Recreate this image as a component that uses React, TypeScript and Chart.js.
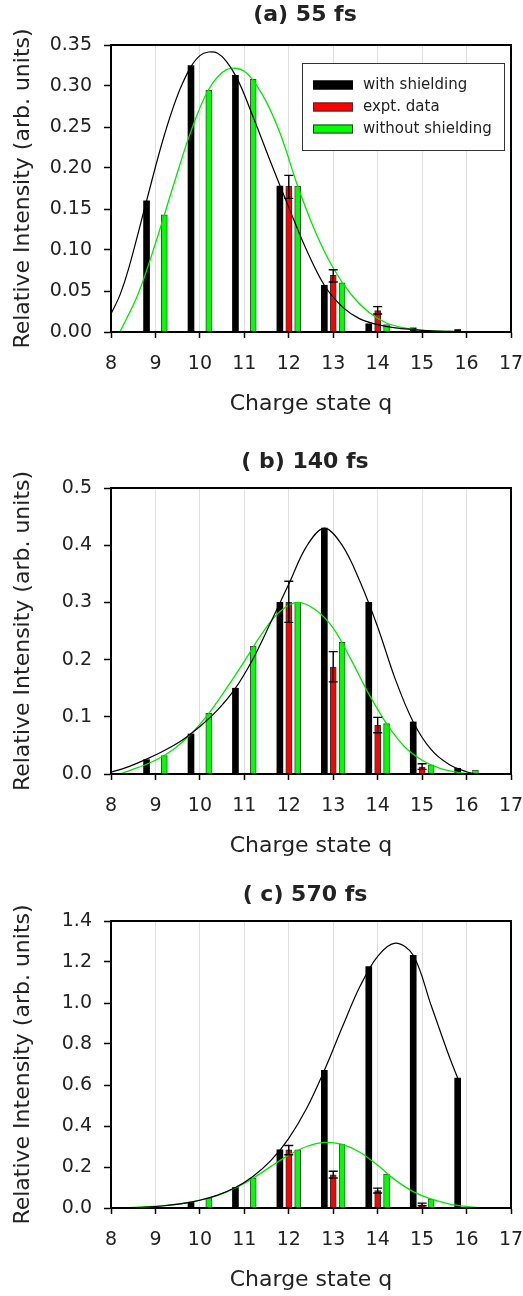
import React, { useEffect, useRef } from "react";
import { Chart, registerables } from "chart.js";

Chart.register(...registerables);

// ---------- shared data ----------
const CHARGE_STATES = [9, 10, 11, 12, 13, 14, 15, 16];
const X_TICKS = [8, 9, 10, 11, 12, 13, 14, 15, 16, 17];
const SERIES_NAMES = ["with shielding", "expt. data", "without shielding"];
const Y_TITLE = "Relative Intensity (arb. units)";
const X_TITLE = "Charge state q";

// ---------- panel (a) 55 fs ----------
const A_TITLE = "(a) 55 fs";
const A_Y_TICKS = [0, 0.05, 0.1, 0.15, 0.2, 0.25, 0.3, 0.35];
const A_Y_LABELS = ["0.00", "0.05", "0.10", "0.15", "0.20", "0.25", "0.30", "0.35"];
const A_WITH = [0.16, 0.325, 0.313, 0.178, 0.057, 0.01, 0.005, 0.003];
const A_WITHOUT = [0.143, 0.295, 0.308, 0.178, 0.06, 0.009, 0.001, null];
const A_EXPT = [null, null, null, 0.178, 0.069, 0.026, null, null];
const A_EXPT_LOW = [null, null, null, 0.163, 0.061, 0.022, null, null];
const A_EXPT_HIGH = [null, null, null, 0.191, 0.076, 0.031, null, null];
const A_FIT_WITH_Q = [8.0, 8.2, 8.4, 8.8, 9.2, 9.6, 10.0, 10.4, 10.8, 11.2, 11.6, 12.0, 12.4, 12.8, 13.2, 13.6, 14.0, 14.4, 14.8, 15.2, 15.6, 16.0];
const A_FIT_WITH_V = [0.022, 0.045, 0.078, 0.16, 0.24, 0.302, 0.337, 0.34, 0.313, 0.262, 0.206, 0.152, 0.1, 0.057, 0.031, 0.016, 0.009, 0.005, 0.003, 0.0015, 0.0007, 0.0];
const A_FIT_WITHOUT_Q = [8.2, 8.6, 9.0, 9.4, 9.8, 10.2, 10.6, 11.0, 11.4, 11.8, 12.2, 12.6, 13.0, 13.4, 13.8, 14.2, 14.6, 15.0, 15.4, 15.8, 16.2];
const A_FIT_WITHOUT_V = [0.0, 0.045, 0.108, 0.178, 0.245, 0.296, 0.32, 0.318, 0.29, 0.243, 0.178, 0.122, 0.078, 0.046, 0.024, 0.011, 0.005, 0.002, 0.001, 0.0005, 0.0];

// ---------- panel (b) 140 fs ----------
const B_TITLE = "( b) 140 fs";
const B_Y_TICKS = [0, 0.1, 0.2, 0.3, 0.4, 0.5];
const B_Y_LABELS = ["0.0", "0.1", "0.2", "0.3", "0.4", "0.5"];
const B_WITH = [0.025, 0.07, 0.15, 0.3, 0.43, 0.3, 0.091, 0.01];
const B_WITHOUT = [0.032, 0.106, 0.223, 0.3, 0.23, 0.088, 0.016, 0.007];
const B_EXPT = [null, null, null, 0.3, 0.187, 0.085, 0.012, null];
const B_EXPT_LOW = [null, null, null, 0.265, 0.161, 0.072, 0.008, null];
const B_EXPT_HIGH = [null, null, null, 0.337, 0.214, 0.099, 0.018, null];
const B_FIT_WITH_Q = [8.0, 8.4, 8.8, 9.2, 9.6, 10.0, 10.4, 10.8, 11.2, 11.6, 12.0, 12.4, 12.8, 13.2, 13.6, 14.0, 14.4, 14.8, 15.2, 15.6, 16.0, 16.2];
const B_FIT_WITH_V = [0.003, 0.013, 0.026, 0.041, 0.059, 0.083, 0.112, 0.15, 0.202, 0.266, 0.332, 0.398, 0.43, 0.4, 0.337, 0.257, 0.165, 0.091, 0.043, 0.017, 0.004, 0.0];
const B_FIT_WITHOUT_Q = [8.2, 8.6, 9.0, 9.4, 9.8, 10.2, 10.6, 11.0, 11.4, 11.8, 12.2, 12.6, 13.0, 13.4, 13.8, 14.2, 14.6, 15.0, 15.4, 15.8, 16.2];
const B_FIT_WITHOUT_V = [0.0, 0.011, 0.024, 0.043, 0.07, 0.106, 0.15, 0.197, 0.246, 0.284, 0.3, 0.287, 0.255, 0.2, 0.14, 0.088, 0.048, 0.024, 0.01, 0.003, 0.0];

// ---------- panel (c) 570 fs ----------
const C_TITLE = "( c) 570 fs";
const C_Y_TICKS = [0, 0.2, 0.4, 0.6, 0.8, 1.0, 1.2, 1.4];
const C_Y_LABELS = ["0.0", "0.2", "0.4", "0.6", "0.8", "1.0", "1.2", "1.4"];
const C_WITH = [null, 0.028, 0.1, 0.284, 0.671, 1.178, 1.233, 0.634];
const C_WITHOUT = [null, 0.049, 0.146, 0.284, 0.312, 0.166, 0.044, null];
const C_EXPT = [null, null, null, 0.284, 0.162, 0.085, 0.016, null];
const C_EXPT_LOW = [null, null, null, 0.26, 0.146, 0.073, 0.011, null];
const C_EXPT_HIGH = [null, null, null, 0.305, 0.179, 0.097, 0.024, null];
const C_FIT_WITH_Q = [8.0, 8.4, 8.8, 9.2, 9.6, 10.0, 10.4, 10.8, 11.2, 11.6, 12.0, 12.4, 12.8, 13.2, 13.6, 14.0, 14.4, 14.8, 15.2, 15.6, 15.8];
const C_FIT_WITH_V = [0.0, 0.002, 0.005, 0.011, 0.021, 0.038, 0.063, 0.1, 0.155, 0.232, 0.34, 0.485, 0.671, 0.88, 1.08, 1.228, 1.292, 1.233, 0.99, 0.745, 0.634];
const C_FIT_WITHOUT_Q = [8.0, 8.4, 8.8, 9.2, 9.6, 10.0, 10.4, 10.8, 11.2, 11.6, 12.0, 12.4, 12.8, 13.2, 13.6, 14.0, 14.4, 14.8, 15.2, 15.6, 16.0, 16.3];
const C_FIT_WITHOUT_V = [0.0, 0.002, 0.006, 0.012, 0.022, 0.038, 0.062, 0.098, 0.146, 0.203, 0.258, 0.3, 0.32, 0.31, 0.272, 0.208, 0.136, 0.08, 0.044, 0.02, 0.007, 0.002];

// ---------- styling / layout constants ----------
const FONT = "DejaVu Sans";
const TEXT_COLOR = "#222";
const GREEN = "#00ff00";
const GREEN_LINE = "#00e600";
const RED = "#ff0000";
const OFFSET_WITH = -0.2;
const OFFSET_EXPT = 0;
const OFFSET_WITHOUT = 0.2;

type PanelCfg = {
  top: number;
  height: number;
  chartTop: number;
  xAxisHeight: number;
  xTitlePad: number;
  titleY: number;
  title: string;
  yMax: number;
  yTicks: number[];
  yLabels: string[];
  withV: (number | null)[];
  withoutV: (number | null)[];
  expt: (number | null)[];
  exptLow: (number | null)[];
  exptHigh: (number | null)[];
  fitWithQ: number[];
  fitWithV: number[];
  fitWithoutQ: number[];
  fitWithoutV: number[];
  legend: boolean;
};

const PANELS: PanelCfg[] = [
  {
    top: 0, height: 430, chartTop: 45, xAxisHeight: 98, xTitlePad: 13, titleY: 15,
    title: A_TITLE, yMax: 0.35, yTicks: A_Y_TICKS, yLabels: A_Y_LABELS,
    withV: A_WITH, withoutV: A_WITHOUT, expt: A_EXPT, exptLow: A_EXPT_LOW, exptHigh: A_EXPT_HIGH,
    fitWithQ: A_FIT_WITH_Q, fitWithV: A_FIT_WITH_V, fitWithoutQ: A_FIT_WITHOUT_Q, fitWithoutV: A_FIT_WITHOUT_V,
    legend: true,
  },
  {
    top: 430, height: 436, chartTop: 58, xAxisHeight: 92, xTitlePad: 7, titleY: 32,
    title: B_TITLE, yMax: 0.5, yTicks: B_Y_TICKS, yLabels: B_Y_LABELS,
    withV: B_WITH, withoutV: B_WITHOUT, expt: B_EXPT, exptLow: B_EXPT_LOW, exptHigh: B_EXPT_HIGH,
    fitWithQ: B_FIT_WITH_Q, fitWithV: B_FIT_WITH_V, fitWithoutQ: B_FIT_WITHOUT_Q, fitWithoutV: B_FIT_WITHOUT_V,
    legend: false,
  },
  {
    top: 866, height: 430, chartTop: 55, xAxisHeight: 88, xTitlePad: 3, titleY: 29,
    title: C_TITLE, yMax: 1.4, yTicks: C_Y_TICKS, yLabels: C_Y_LABELS,
    withV: C_WITH, withoutV: C_WITHOUT, expt: C_EXPT, exptLow: C_EXPT_LOW, exptHigh: C_EXPT_HIGH,
    fitWithQ: C_FIT_WITH_Q, fitWithV: C_FIT_WITH_V, fitWithoutQ: C_FIT_WITHOUT_Q, fitWithoutV: C_FIT_WITHOUT_V,
    legend: false,
  },
];

function barPoints(vals: (number | null)[], offset: number) {
  const out: { x: number; y: number }[] = [];
  CHARGE_STATES.forEach((q, i) => {
    const v = vals[i];
    if (v !== null && v !== undefined) out.push({ x: q + offset, y: v });
  });
  return out;
}

function linePoints(qs: number[], vs: number[]) {
  return qs.map((q, i) => ({ x: q, y: vs[i] }));
}

// ---------- plugins ----------
const titlePlugin = {
  id: "panelTitle",
  afterDraw(chart: any, _args: any, opts: any) {
    const { ctx } = chart;
    ctx.save();
    ctx.font = `bold 22px "${FONT}"`;
    ctx.fillStyle = TEXT_COLOR;
    ctx.textAlign = "center";
    ctx.textBaseline = "middle";
    ctx.fillText(opts.text, opts.x, opts.y);
    ctx.restore();
  },
};

const framePlugin = {
  id: "frame",
  afterDatasetsDraw(chart: any) {
    const { ctx, chartArea: a } = chart;
    ctx.save();
    ctx.strokeStyle = "#000";
    ctx.lineWidth = 2;
    ctx.strokeRect(a.left, a.top, a.right - a.left, a.bottom - a.top);
    ctx.restore();
  },
};

const errorBarPlugin = {
  id: "errorBars",
  afterDatasetsDraw(chart: any, _args: any, opts: any) {
    const { ctx } = chart;
    const xs = chart.scales.x;
    const ys = chart.scales.y;
    ctx.save();
    ctx.strokeStyle = "#000";
    ctx.lineWidth = 1.4;
    (opts.items || []).forEach((it: any) => {
      const px = xs.getPixelForValue(it.q);
      const pl = ys.getPixelForValue(it.lo);
      const ph = ys.getPixelForValue(it.hi);
      const hw = 4.5;
      ctx.beginPath();
      ctx.moveTo(px, pl);
      ctx.lineTo(px, ph);
      ctx.moveTo(px - hw, ph);
      ctx.lineTo(px + hw, ph);
      ctx.moveTo(px - hw, pl);
      ctx.lineTo(px + hw, pl);
      ctx.stroke();
    });
    ctx.restore();
  },
};

const boxLegendPlugin = {
  id: "boxLegend",
  afterDatasetsDraw(chart: any, _args: any, opts: any) {
    if (!opts.show) return;
    const { ctx } = chart;
    const bx = 302, by = 63.5, bw = 202, bh = 87;
    ctx.save();
    ctx.fillStyle = "#fff";
    ctx.fillRect(bx, by, bw, bh);
    ctx.strokeStyle = "#333";
    ctx.lineWidth = 1;
    ctx.strokeRect(bx + 0.5, by, bw, bh);
    const rows = [85, 107, 129];
    const fills = ["#000", RED, GREEN];
    const strokes = ["#000", "#333", "#333"];
    ctx.font = `15px "${FONT}"`;
    ctx.textAlign = "left";
    ctx.textBaseline = "middle";
    opts.labels.forEach((lab: string, i: number) => {
      const cy = rows[i];
      ctx.fillStyle = fills[i];
      ctx.fillRect(313, cy - 4.5, 40, 9);
      ctx.strokeStyle = strokes[i];
      ctx.strokeRect(313.5, cy - 4, 39, 8);
      ctx.fillStyle = TEXT_COLOR;
      ctx.fillText(lab, 363, cy + 0.5);
    });
    ctx.restore();
  },
};

function Panel({ cfg }: { cfg: PanelCfg }) {
  const ref = useRef<HTMLCanvasElement>(null);
  useEffect(() => {
    if (!ref.current) return;
    const errItems: { q: number; lo: number; hi: number }[] = [];
    CHARGE_STATES.forEach((q, i) => {
      const lo = cfg.exptLow[i];
      const hi = cfg.exptHigh[i];
      if (lo !== null && hi !== null) errItems.push({ q: q + OFFSET_EXPT, lo, hi });
    });
    const chart = new Chart(ref.current, {
      type: "bar",
      data: {
        datasets: [
          {
            type: "line",
            label: SERIES_NAMES[0] + " fit",
            data: linePoints(cfg.fitWithQ, cfg.fitWithV),
            borderColor: "#000",
            borderWidth: 1.2,
            pointRadius: 0,
            fill: false,
            tension: 0.35,
            order: 0,
          } as any,
          {
            type: "line",
            label: SERIES_NAMES[2] + " fit",
            data: linePoints(cfg.fitWithoutQ, cfg.fitWithoutV),
            borderColor: GREEN_LINE,
            borderWidth: 1.3,
            pointRadius: 0,
            fill: false,
            tension: 0.35,
            order: 0,
          } as any,
          {
            type: "bar",
            label: SERIES_NAMES[0],
            data: barPoints(cfg.withV, OFFSET_WITH),
            backgroundColor: "#000",
            borderWidth: 0,
            barThickness: 6,
            grouped: false,
            order: 2,
          } as any,
          {
            type: "bar",
            label: SERIES_NAMES[1],
            data: barPoints(cfg.expt, OFFSET_EXPT),
            backgroundColor: RED,
            borderColor: "#333",
            borderWidth: 1,
            barThickness: 6,
            grouped: false,
            order: 2,
          } as any,
          {
            type: "bar",
            label: SERIES_NAMES[2],
            data: barPoints(cfg.withoutV, OFFSET_WITHOUT),
            backgroundColor: GREEN,
            borderColor: "#444",
            borderWidth: 1,
            barThickness: 6,
            grouped: false,
            order: 2,
          } as any,
        ],
      },
      options: {
        animation: false,
        responsive: false,
        devicePixelRatio: 1,
        layout: { padding: { top: cfg.chartTop, left: 0, right: 12, bottom: 0 } },
        plugins: {
          legend: { display: false },
          tooltip: { enabled: false },
          title: { display: false },
          panelTitle: { text: cfg.title, x: 305, y: cfg.titleY },
          errorBars: { items: errItems },
          boxLegend: { show: cfg.legend, labels: SERIES_NAMES },
        } as any,
        scales: {
          x: {
            type: "linear",
            min: 8,
            max: 17,
            offset: false,
            afterBuildTicks: (s: any) => {
              s.ticks = X_TICKS.map((v) => ({ value: v }));
            },
            afterFit: (s: any) => {
              s.height = cfg.xAxisHeight;
              s.paddingLeft = 0;
              s.paddingRight = 0;
            },
            grid: {
              offset: false,
              color: "#dedede",
              lineWidth: 1,
              drawTicks: true,
              tickLength: 6,
              tickColor: "#000",
              tickWidth: 1.5,
            },
            border: { display: true, color: "#000", width: 2 },
            ticks: {
              color: TEXT_COLOR,
              font: { family: FONT, size: 19 },
              padding: 15,
              maxRotation: 0,
              callback: (v: any) => String(v),
            },
            title: {
              display: true,
              text: X_TITLE,
              color: TEXT_COLOR,
              font: { family: FONT, size: 22 },
              padding: { top: 0, bottom: cfg.xTitlePad },
            },
          },
          y: {
            type: "linear",
            min: 0,
            max: cfg.yMax,
            afterBuildTicks: (s: any) => {
              s.ticks = cfg.yTicks.map((v) => ({ value: v }));
            },
            afterFit: (s: any) => {
              s.width = 111;
              s.paddingTop = 0;
              s.paddingBottom = 0;
            },
            grid: {
              drawOnChartArea: false,
              drawTicks: true,
              tickLength: 7,
              tickColor: "#000",
              tickWidth: 1.5,
            },
            border: { display: true, color: "#000", width: 2 },
            ticks: {
              color: TEXT_COLOR,
              font: { family: FONT, size: 19 },
              padding: 12,
              callback: (_v: any, i: number) => cfg.yLabels[i],
            },
            title: {
              display: true,
              text: Y_TITLE,
              color: TEXT_COLOR,
              font: { family: FONT, size: 22 },
              padding: { top: 10, bottom: 0 },
            },
          },
        },
      } as any,
      plugins: [framePlugin, errorBarPlugin, boxLegendPlugin, titlePlugin],
    });
    return () => chart.destroy();
  }, [cfg]);
  return (
    <div style={{ position: "absolute", left: 0, top: cfg.top, width: 523, height: cfg.height }}>
      <canvas ref={ref} width={523} height={cfg.height} style={{ display: "block", width: 523, height: cfg.height }} />
    </div>
  );
}

export default function App() {
  return (
    <div style={{ position: "absolute", left: 0, top: 0, width: 523, height: 1296, background: "#fff" }}>
      {PANELS.map((p, i) => (
        <Panel key={i} cfg={p} />
      ))}
    </div>
  );
}
